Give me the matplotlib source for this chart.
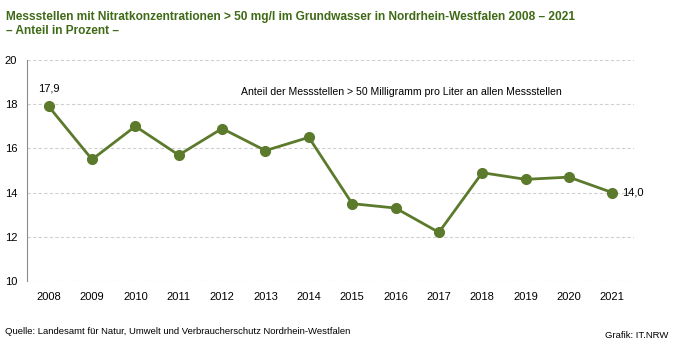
import matplotlib
matplotlib.use("Agg")
import matplotlib.pyplot as plt

plt.rcParams["font.family"] = ["Liberation Sans", "DejaVu Sans"]

years = ["2008", "2009", "2010", "2011", "2012", "2013", "2014",
         "2015", "2016", "2017", "2018", "2019", "2020", "2021"]
share = [17.9, 15.5, 17.0, 15.7, 16.9, 15.9, 16.5,
         13.5, 13.3, 12.2, 14.9, 14.6, 14.7, 14.0]
y_ticks = [10, 12, 14, 16, 18, 20]

LINE = "#5c7a2c"
TITLE = "#3f6a16"

W, H = 673, 352
fig = plt.figure(figsize=(W / 100, H / 100), dpi=100)
ax = fig.add_axes([27 / W, 1 - 281 / H, (634 - 27) / W, (281 - 60) / H])

x = list(range(len(years)))
ax.plot(x, share, color=LINE, lw=2, marker="o", ms=7, zorder=3)

ax.set_xlim(-0.5, len(years) - 0.5)
ax.set_ylim(10, 20)
ax.set_yticks(y_ticks)
ax.set_xticks(x)
ax.set_xticklabels(years)
ax.tick_params(axis="both", length=0, labelsize=8, colors="black")
ax.tick_params(axis="x", pad=8)
ax.tick_params(axis="y", pad=7)
ax.grid(axis="y", color="#d0d0d0", ls=(0, (3, 2)), lw=0.8)
ax.set_axisbelow(True)
for s in ["top", "right", "bottom"]:
    ax.spines[s].set_visible(False)
ax.spines["left"].set_color("#8c8c8c")

ax.annotate("17,9", (x[0], share[0]), xytext=(0, 9), textcoords="offset points",
            ha="center", va="bottom", fontsize=8)
ax.annotate("14,0", (x[-1], share[-1]), xytext=(7, 0), textcoords="offset points",
            ha="left", va="center", fontsize=8)
ax.text(0.616, 0.855, "Anteil der Messstellen > 50 Milligramm pro Liter an allen Messstellen",
        transform=ax.transAxes, ha="center", va="center", fontsize=7.6)

fig.text(6 / W, 1 - 17 / H, "Messstellen mit Nitratkonzentrationen > 50 mg/l im Grundwasser in Nordrhein-Westfalen 2008 – 2021",
         color=TITLE, fontsize=8.6, fontweight="bold", ha="left", va="center")
fig.text(6 / W, 1 - 31 / H, "– Anteil in Prozent –",
         color=TITLE, fontsize=8.6, fontweight="bold", ha="left", va="center")
fig.text(5 / W, 1 - 331 / H, "Quelle: Landesamt für Natur, Umwelt und Verbraucherschutz Nordrhein-Westfalen",
         fontsize=6.8, ha="left", va="center")
fig.text(668 / W, 1 - 335 / H, "Grafik: IT.NRW", fontsize=6.8, ha="right", va="center")

fig.savefig("out.png", dpi=100)
